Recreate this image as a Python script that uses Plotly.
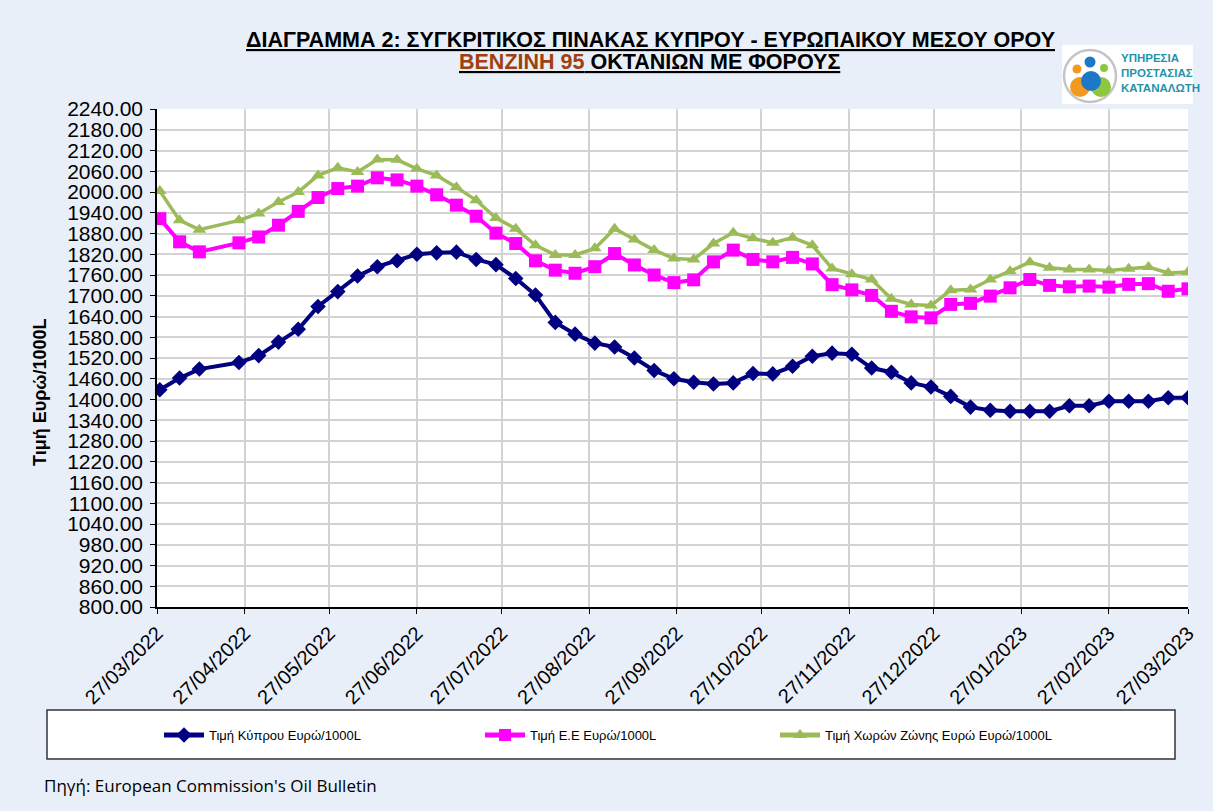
import plotly.graph_objects as go

# ---------------- data ----------------
dates = [
    "2022-03-28", "2022-04-04", "2022-04-11", "2022-04-25", "2022-05-02", "2022-05-09",
    "2022-05-16", "2022-05-23", "2022-05-30", "2022-06-06", "2022-06-13", "2022-06-20",
    "2022-06-27", "2022-07-04", "2022-07-11", "2022-07-18", "2022-07-25", "2022-08-01",
    "2022-08-08", "2022-08-15", "2022-08-22", "2022-08-29", "2022-09-05", "2022-09-12",
    "2022-09-19", "2022-09-26", "2022-10-03", "2022-10-10", "2022-10-17", "2022-10-24",
    "2022-10-31", "2022-11-07", "2022-11-14", "2022-11-21", "2022-11-28", "2022-12-05",
    "2022-12-12", "2022-12-19", "2022-12-26", "2023-01-02", "2023-01-09", "2023-01-16",
    "2023-01-23", "2023-01-30", "2023-02-06", "2023-02-13", "2023-02-20", "2023-02-27",
    "2023-03-06", "2023-03-13", "2023-03-20", "2023-03-27",
]

cyprus = [
    1428, 1462, 1488, 1507, 1527, 1566, 1603, 1669, 1712, 1757, 1784, 1801, 1820, 1824,
    1826, 1805, 1790, 1750, 1702, 1623, 1589, 1563, 1552, 1520, 1484, 1460, 1450, 1445,
    1448, 1475, 1474, 1496, 1525, 1534, 1531, 1491, 1479, 1448, 1436, 1409, 1378, 1369,
    1366, 1366, 1366, 1382, 1382, 1395, 1395, 1395, 1405, 1405,
]

eu = [
    1923, 1856, 1827, 1853, 1870, 1904, 1944, 1984, 2010, 2017, 2041, 2035, 2017, 1992,
    1962, 1930, 1881, 1851, 1801, 1774, 1765, 1784, 1822, 1789, 1760, 1738, 1746, 1798,
    1832, 1805, 1798, 1811, 1792, 1732, 1717, 1701, 1655, 1639, 1636, 1675, 1678, 1699,
    1723, 1747, 1730, 1726, 1728, 1725, 1733, 1735, 1713, 1720,
]

eurozone = [
    2003, 1918, 1891, 1918, 1938, 1971, 2000, 2048, 2070, 2058, 2094, 2093, 2067, 2048,
    2014, 1976, 1925, 1894, 1846, 1818, 1818, 1837, 1894, 1863, 1832, 1808, 1805, 1851,
    1882, 1866, 1853, 1868, 1846, 1779, 1762, 1747, 1691, 1675, 1672, 1716, 1718, 1747,
    1771, 1797, 1781, 1776, 1776, 1773, 1778, 1783, 1766, 1769,
]

series_names = [
    "Τιμή Κύπρου Ευρώ/1000L",
    "Τιμή Ε.Ε Ευρώ/1000L",
    "Τιμή Χωρών Ζώνης Ευρώ Ευρώ/1000L",
]

tick_dates = [
    "2022-03-27", "2022-04-27", "2022-05-27", "2022-06-27", "2022-07-27", "2022-08-27",
    "2022-09-27", "2022-10-27", "2022-11-27", "2022-12-27", "2023-01-27", "2023-02-27",
    "2023-03-27",
]
tick_labels = [
    "27/03/2022", "27/04/2022", "27/05/2022", "27/06/2022", "27/07/2022", "27/08/2022",
    "27/09/2022", "27/10/2022", "27/11/2022", "27/12/2022", "27/01/2023", "27/02/2023",
    "27/03/2023",
]

# ---------------- layout geometry (pixels) ----------------
W, H = 1213, 811
L, R, T, B = 157, 1188, 109, 607
PW, PH = R - L, B - T


def px_x(x):
    return (x - L) / PW


def px_y(y):
    return (B - y) / PH


BG = "#E9EFF8"
FONT = "Liberation Sans, Arial, sans-serif"

fig = go.Figure()

fig.add_trace(go.Scatter(
    x=dates, y=eurozone, name=series_names[2], mode="lines+markers",
    line=dict(color="#9BBB59", width=3.5),
    marker=dict(symbol="triangle-up", size=12, color="#9BBB59"),
    legend="legend3",
))
fig.add_trace(go.Scatter(
    x=dates, y=eu, name=series_names[1], mode="lines+markers",
    line=dict(color="#FF00FF", width=4),
    marker=dict(symbol="square", size=13, color="#FF00FF"),
    legend="legend2",
))
fig.add_trace(go.Scatter(
    x=dates, y=cyprus, name=series_names[0], mode="lines+markers",
    line=dict(color="#000080", width=4),
    marker=dict(symbol="diamond", size=12, color="#000080"),
    legend="legend",
))

legend_common = dict(
    orientation="h", xref="container", yref="container",
    xanchor="left", yanchor="middle", bgcolor="rgba(0,0,0,0)",
    font=dict(family=FONT, size=13, color="#000000"),
    itemwidth=40, itemsizing="constant",
)

shapes = [
    # legend frame
    dict(type="rect", xref="paper", yref="paper",
         x0=px_x(47), x1=px_x(1175), y0=px_y(759), y1=px_y(710),
         fillcolor="#FFFFFF", line=dict(color="#333333", width=1.5), layer="below"),
    # logo background
    dict(type="rect", xref="paper", yref="paper",
         x0=px_x(1062), x1=px_x(1193), y0=px_y(104), y1=px_y(45),
         fillcolor="#FFFFFF", line=dict(width=0), layer="above"),
]


def circle(cx, cy, r, fill, line=None):
    return dict(type="circle", xref="paper", yref="paper",
                x0=px_x(cx - r), x1=px_x(cx + r), y0=px_y(cy + r), y1=px_y(cy - r),
                fillcolor=fill, line=line or dict(width=0), layer="above")


shapes += [
    circle(1090, 76, 26, "rgba(0,0,0,0)", dict(color="#C4C4C4", width=2.5)),
    circle(1080, 87, 10, "#F39A1E"),
    circle(1101, 87, 10, "#8DC63F"),
    circle(1091, 81, 10, "#1E78C8"),
    circle(1077, 69, 4.5, "#F39A1E"),
    circle(1104, 68, 4, "#8DC63F"),
    circle(1090, 62, 5.5, "#1E78C8"),
]

annotations = [
    dict(text="ΔΙΑΓΡΑΜΜΑ 2: ΣΥΓΚΡΙΤΙΚΟΣ ΠΙΝΑΚΑΣ ΚΥΠΡΟΥ - ΕΥΡΩΠΑΙΚΟΥ ΜΕΣΟΥ ΟΡΟΥ",
         x=px_x(650), y=px_y(40), xref="paper", yref="paper",
         showarrow=False, xanchor="center", yanchor="middle",
         font=dict(family=FONT, size=21.5, color="#000000", weight="bold", lineposition="under")),
    dict(text="<span style='color:#A0410D'>ΒΕΝΖΙΝΗ 95</span> ΟΚΤΑΝΙΩΝ ΜΕ ΦΟΡΟΥΣ",
         x=px_x(649), y=px_y(62), xref="paper", yref="paper",
         showarrow=False, xanchor="center", yanchor="middle",
         font=dict(family=FONT, size=21.5, color="#000000", weight="bold", lineposition="under")),
    dict(text="Τιμή Ευρώ/1000L", textangle=-90,
         x=px_x(40), y=px_y(392), xref="paper", yref="paper",
         showarrow=False, xanchor="center", yanchor="middle",
         font=dict(family=FONT, size=18, color="#000000", weight="bold")),
    dict(text="Πηγή: European Commission's Oil Bulletin",
         x=px_x(42), y=px_y(785), xref="paper", yref="paper",
         showarrow=False, xanchor="left", yanchor="middle",
         font=dict(family="Open Sans, Liberation Sans, sans-serif", size=17, color="#000000")),
    dict(text="<b>ΥΠΗΡΕΣΙΑ<br>ΠΡΟΣΤΑΣΙΑΣ<br>ΚΑΤΑΝΑΛΩΤΗ</b>", align="left",
         x=px_x(1119), y=px_y(73), xref="paper", yref="paper",
         showarrow=False, xanchor="left", yanchor="middle",
         font=dict(family=FONT, size=11.5, color="#1F93AD")),
]

fig.update_layout(
    width=W, height=H,
    margin=dict(l=L, r=W - R, t=T, b=H - B, autoexpand=False),
    paper_bgcolor=BG, plot_bgcolor="#FFFFFF",
    font=dict(family=FONT, color="#000000"),
    showlegend=True,
    legend=dict(x=159 / W, y=1 - 735 / H, **legend_common),
    legend2=dict(x=480 / W, y=1 - 735 / H, **legend_common),
    legend3=dict(x=775 / W, y=1 - 735 / H, **legend_common),
    shapes=shapes,
    annotations=annotations,
    xaxis=dict(
        type="date", range=["2022-03-27", "2023-03-27"],
        tickmode="array", tickvals=tick_dates, ticktext=tick_labels,
        tickangle=-45, tickfont=dict(family=FONT, size=20, color="#000000"),
        showgrid=True, gridcolor="#D3D3D3", gridwidth=1.5,
        showline=True, linecolor="#000000", linewidth=1.5,
        ticks="outside", ticklen=5, tickcolor="#000000", tickwidth=1,
        zeroline=False, automargin=False, fixedrange=True,
    ),
    yaxis=dict(
        range=[800, 2240], tickmode="linear", tick0=800, dtick=60, tickformat=".2f",
        tickfont=dict(family=FONT, size=21, color="#000000"), ticklabelstandoff=3,
        showgrid=True, gridcolor="#D3D3D3", gridwidth=1.5,
        showline=True, linecolor="#000000", linewidth=1.5,
        ticks="outside", ticklen=5, tickcolor="#000000", tickwidth=1,
        zeroline=False, automargin=False, fixedrange=True,
    ),
)

fig.write_html("out.html", config={"displayModeBar": False},
               post_script="document.body.style.margin='0';")
